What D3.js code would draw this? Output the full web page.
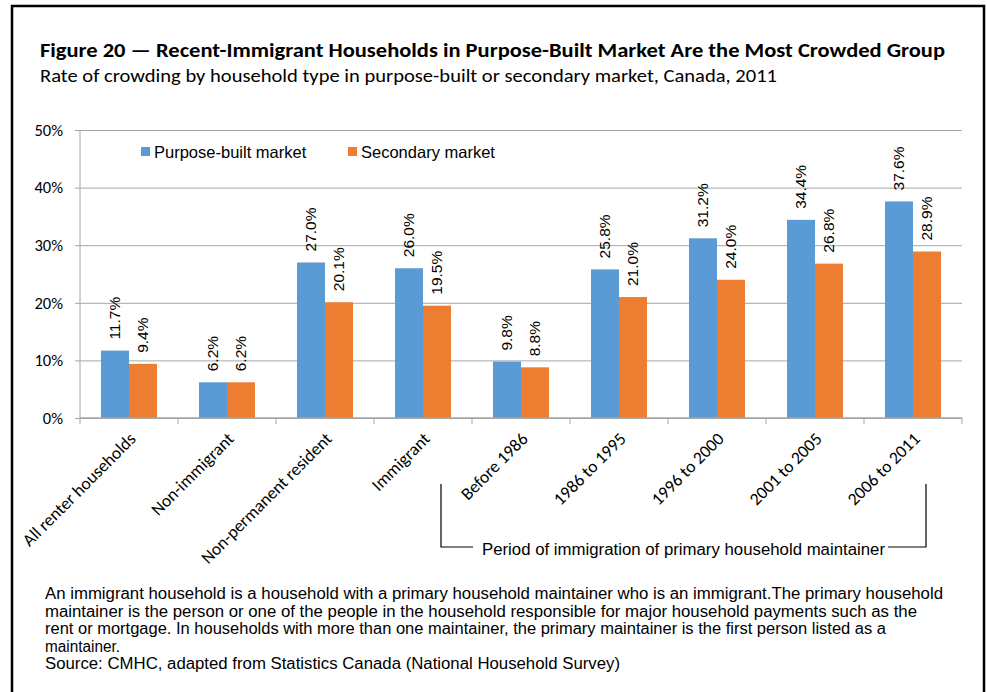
<!DOCTYPE html>
<html>
<head>
<meta charset="utf-8">
<script src="https://cdn.jsdelivr.net/npm/d3@7"></script>
<style>
  html, body { margin: 0; padding: 0; background: #fff; }
  svg { display: block; }
</style>
</head>
<body>
<svg id="chart" width="987" height="692"></svg>
<script>
// Household categories along the x axis
const categories = [
  "All renter households", "Non-immigrant", "Non-permanent resident", "Immigrant",
  "Before 1986", "1986 to 1995", "1996 to 2000", "2001 to 2005", "2006 to 2011"
];
// Crowding rates (%) by market
const purposeBuilt = [11.7, 6.2, 27.0, 26.0, 9.8, 25.8, 31.2, 34.4, 37.6];
const secondary    = [9.4, 6.2, 20.1, 19.5, 8.8, 21.0, 24.0, 26.8, 28.9];
const seriesNames = ["Purpose-built market", "Secondary market"];
const yTicks = [0, 10, 20, 30, 40, 50];

const titleText = "Figure 20 \u2014 Recent-Immigrant Households in Purpose-Built Market Are the Most Crowded Group";
const subtitleText = "Rate of crowding by household type in purpose-built or secondary market, Canada, 2011";
const bracketText = "Period of immigration of primary household maintainer";
const noteLines = [
  "An immigrant household is a household with a primary household maintainer who is an immigrant.The primary household",
  "maintainer is the person or one of the people in the household responsible for major household payments such as the",
  "rent or mortgage. In households with more than one maintainer, the primary maintainer is the first person listed as a",
  "maintainer.",
  "Source: CMHC, adapted from Statistics Canada (National Household Survey)"
];

const colors = ["#5B9BD5", "#ED7D31"];
const gridColor = "#A6A6A6";
const excelFont = "Carlito, Lato, 'Open Sans', sans-serif";
const arialFont = "'Liberation Sans', Arial, sans-serif";

const svg = d3.select("#chart");

// Outer frame
svg.append("rect")
  .attr("x", 12).attr("y", 6).attr("width", 972).attr("height", 700)
  .attr("fill", "none").attr("stroke", "#000").attr("stroke-width", 2.5);

// Heading
svg.append("text")
  .attr("x", 40).attr("y", 57)
  .attr("font-family", excelFont).attr("font-weight", "bold").attr("font-size", 20)
  .attr("textLength", 905).attr("lengthAdjust", "spacingAndGlyphs")
  .attr("fill", "#000")
  .text(titleText);
svg.append("text")
  .attr("x", 40).attr("y", 82)
  .attr("font-family", excelFont).attr("font-size", 18.5)
  .attr("textLength", 737).attr("lengthAdjust", "spacingAndGlyphs")
  .attr("fill", "#000")
  .text(subtitleText);

// Plot area
const plot = { left: 80, right: 962, top: 130, bottom: 418 };

const x0 = d3.scaleBand()
  .domain(categories)
  .range([plot.left, plot.right])
  .paddingInner(0.4286)
  .paddingOuter(0.2143);

const x1 = d3.scaleBand()
  .domain([0, 1])
  .range([0, x0.bandwidth()]);

const y = d3.scaleLinear().domain([0, 50]).range([plot.bottom, plot.top]);

// Horizontal gridlines with outside tick marks
const yAxis = d3.axisLeft(y)
  .tickValues(yTicks)
  .tickSize(-(plot.right - plot.left))
  .tickFormat(d => d + "%");

const gy = svg.append("g")
  .attr("transform", `translate(${plot.left},0)`)
  .call(yAxis);
gy.select(".domain").attr("stroke", gridColor).attr("d", `M0,${plot.top}V${plot.bottom}`);
gy.selectAll(".tick line").attr("stroke", gridColor).attr("x1", -5);
gy.selectAll(".tick text")
  .attr("x", -17)
  .attr("font-family", excelFont).attr("font-size", 16.5).attr("fill", "#000");

// Bars
const data = categories.map((c, i) => ({ cat: c, vals: [purposeBuilt[i], secondary[i]] }));

const groups = svg.append("g").selectAll("g")
  .data(data)
  .join("g")
  .attr("transform", d => `translate(${x0(d.cat)},0)`);

groups.selectAll("rect")
  .data(d => d.vals.map((v, s) => ({ v, s })))
  .join("rect")
  .attr("x", d => x1(d.s))
  .attr("width", x1.bandwidth())
  .attr("y", d => y(d.v))
  .attr("height", d => y(0) - y(d.v))
  .attr("fill", d => colors[d.s]);

// Value labels, rotated above bars
groups.selectAll("text")
  .data(d => d.vals.map((v, s) => ({ v, s })))
  .join("text")
  .attr("transform", d => `translate(${x1(d.s) + x1.bandwidth() / 2},${y(d.v) - 11}) rotate(-90)`)
  .attr("dy", "0.35em")
  .attr("text-anchor", "start")
  .attr("font-family", arialFont).attr("font-size", 15.5).attr("fill", "#000")
  .text(d => d.v.toFixed(1) + "%");

// X axis with ticks at category boundaries
const xAxisG = svg.append("g");
xAxisG.append("line")
  .attr("x1", plot.left).attr("x2", plot.right)
  .attr("y1", plot.bottom).attr("y2", plot.bottom)
  .attr("stroke", gridColor).attr("stroke-width", 1.5);
const step = x0.step();
const boundaries = d3.range(categories.length + 1).map(i => plot.left + i * step);
xAxisG.selectAll("line.tk")
  .data(boundaries)
  .join("line")
  .attr("class", "tk")
  .attr("x1", d => d).attr("x2", d => d)
  .attr("y1", plot.bottom).attr("y2", plot.bottom + 6)
  .attr("stroke", gridColor);

xAxisG.selectAll("text")
  .data(categories)
  .join("text")
  .attr("transform", d => `translate(${x0(d) + x0.bandwidth() / 2 - 1},${plot.bottom + 13}) rotate(-45)`)
  .attr("dy", "0.72em")
  .attr("text-anchor", "end")
  .attr("font-family", excelFont).attr("font-size", 17.5).attr("fill", "#000")
  .text(d => d);

// Legend
const legend = svg.append("g");
const legendPos = [141, 348];
seriesNames.forEach((name, i) => {
  legend.append("rect")
    .attr("x", legendPos[i]).attr("y", 147).attr("width", 9).attr("height", 9)
    .attr("fill", colors[i]);
  legend.append("text")
    .attr("x", legendPos[i] + 13).attr("y", 157.5)
    .attr("font-family", arialFont).attr("font-size", 16.5).attr("fill", "#000")
    .text(name);
});

// Bracket grouping the immigration periods
const bx0 = 441, bx1 = 926, byTop = 484, byBot = 547;
const bracket = svg.append("g").attr("stroke", "#000").attr("stroke-width", 1.2).attr("fill", "none");
bracket.append("path").attr("d", `M${bx0},${byTop}V${byBot}H${bx0 + 32}`);
bracket.append("path").attr("d", `M${bx1},${byTop}V${byBot}H${bx1 - 38}`);
svg.append("text")
  .attr("x", 482).attr("y", 554.5)
  .attr("font-family", arialFont).attr("font-size", 16).attr("fill", "#000")
  .attr("textLength", 403).attr("lengthAdjust", "spacingAndGlyphs")
  .text(bracketText);

// Footnote
const noteWidths = [898, 872, 841, 75, 575];
svg.append("g").selectAll("text")
  .data(noteLines)
  .join("text")
  .attr("x", 45)
  .attr("y", (d, i) => 599 + i * 17.5)
  .attr("font-family", arialFont).attr("font-size", 16).attr("fill", "#000")
  .attr("textLength", (d, i) => noteWidths[i]).attr("lengthAdjust", "spacingAndGlyphs")
  .text(d => d);
</script>
</body>
</html>
